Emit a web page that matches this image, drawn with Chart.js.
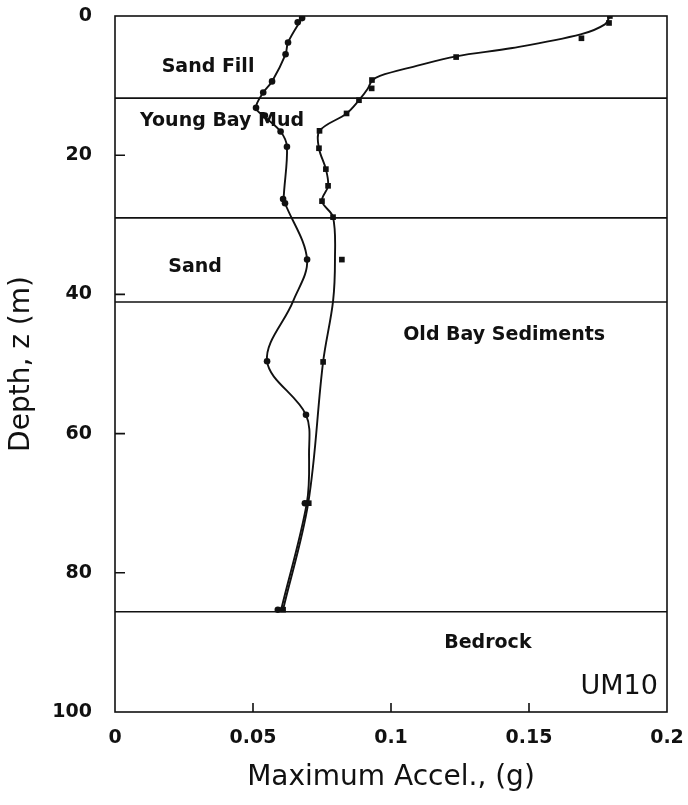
<!DOCTYPE html>
<html>
<head>
<meta charset="utf-8">
<script src="https://cdn.jsdelivr.net/npm/chart.js@4.4.1/dist/chart.umd.min.js"></script>
<style>
  html, body { margin: 0; padding: 0; background: #fff; }
  #wrap { width: 688px; height: 805px; position: relative; }
</style>
</head>
<body>
<div id="wrap"><canvas id="accelChart"></canvas></div>
<script>
// Max acceleration vs depth, site UM10

// layer boundaries (m)
const layerDepths = [11.8, 29.0, 41.1, 85.6];

// measured points, circles
const circleAccel = [0.0678, 0.0662, 0.0627, 0.0618, 0.0569, 0.0537, 0.0511, 0.0543, 0.0600, 0.0623, 0.0609, 0.0616, 0.0696, 0.0551, 0.0692, 0.0688, 0.0590];
const circleDepth = [0.3, 0.9, 3.8, 5.5, 9.4, 11.0, 13.2, 14.3, 16.6, 18.8, 26.3, 26.9, 35.0, 49.6, 57.3, 70.0, 85.3];

// measured points, squares
const squareAccel = [0.1793, 0.1790, 0.1690, 0.1236, 0.0931, 0.0930, 0.0884, 0.0839, 0.0741, 0.0739, 0.0764, 0.0772, 0.0750, 0.0790, 0.0822, 0.0754, 0.0702, 0.0609];
const squareDepth = [0.0, 1.0, 3.2, 5.9, 9.2, 10.4, 12.1, 14.0, 16.5, 19.0, 22.0, 24.4, 26.6, 28.9, 35.0, 49.7, 70.0, 85.3];

// hand drawn curves through the points
const leftCurveAccel = [0.0678, 0.0627, 0.0618, 0.0569, 0.0537, 0.0511, 0.0543, 0.0600, 0.0623, 0.0611, 0.0616, 0.0696, 0.0645, 0.0551, 0.0692, 0.0703, 0.0695, 0.0602];
const leftCurveDepth = [0.3, 3.8, 5.5, 9.4, 11.0, 13.2, 14.5, 16.6, 18.8, 26.3, 26.9, 35.0, 41.0, 49.6, 57.3, 63.0, 70.0, 85.3];

const rightCurveAccel = [0.1793, 0.1775, 0.1690, 0.1440, 0.1236, 0.1080, 0.0960, 0.0931, 0.0915, 0.0884, 0.0839, 0.0741, 0.0739, 0.0764, 0.0772, 0.0750, 0.0790, 0.0797, 0.0790, 0.0754, 0.0700, 0.0609];
const rightCurveDepth = [0.0, 1.2, 2.6, 4.6, 5.8, 7.3, 8.6, 9.3, 10.5, 12.1, 14.0, 16.5, 19.0, 22.0, 24.4, 26.6, 28.9, 35.0, 41.0, 49.7, 70.0, 85.3];

// ticks
const xTickValues = [0, 0.05, 0.1, 0.15, 0.2];
const xTickLabels = ["0", "0.05", "0.1", "0.15", "0.2"];
const yTickValues = [0, 20, 40, 60, 80, 100];
const yTickLabels = ["0", "20", "40", "60", "80", "100"];

// layer names and where they sit (accel, depth)
const layerNames = ["Sand Fill", "Young Bay Mud", "Sand", "Old Bay Sediments", "Bedrock"];
const layerNameAccel = [0.0337, 0.0388, 0.0290, 0.1410, 0.1351];
const layerNameDepth = [7.3, 15.1, 36.1, 45.8, 90.1];
const siteName = "UM10";

const ink = "#111111";

function toPoints(xs, ys) {
    return xs.map((v, i) => ({ x: v, y: ys[i] }));
}

// no automatic label overhang padding, layout padding decides the frame
function noPad(scale) {
    scale.paddingTop = 0;
    scale.paddingBottom = 0;
    scale.paddingLeft = 0;
    scale.paddingRight = 0;
}

const layerSets = layerDepths.map(d => ({
    data: [{ x: 0, y: d }, { x: 0.2, y: d }],
    showLine: true,
    borderColor: ink,
    borderWidth: 1.6,
    pointRadius: 0
}));

const framePlugin = {
    id: "frame",
    afterDatasetsDraw(chart) {
        const { ctx, chartArea: a, scales: { x, y } } = chart;
        ctx.save();
        ctx.strokeStyle = ink;
        ctx.lineWidth = 1.6;
        ctx.strokeRect(a.left, a.top, a.right - a.left, a.bottom - a.top);

        // inward tick marks
        ctx.beginPath();
        yTickValues.slice(1, -1).forEach(v => {
            const py = y.getPixelForValue(v);
            ctx.moveTo(a.left, py);
            ctx.lineTo(a.left + 10, py);
        });
        xTickValues.slice(1, -1).forEach(v => {
            const px = x.getPixelForValue(v);
            ctx.moveTo(px, a.bottom);
            ctx.lineTo(px, a.bottom - 9);
        });
        ctx.stroke();

        // layer names
        ctx.fillStyle = ink;
        ctx.textBaseline = "middle";
        ctx.textAlign = "center";
        ctx.font = "bold 19px 'DejaVu Sans'";
        layerNames.forEach((name, i) => {
            ctx.fillText(name, x.getPixelForValue(layerNameAccel[i]), y.getPixelForValue(layerNameDepth[i]));
        });

        ctx.textAlign = "right";
        ctx.font = "27px 'DejaVu Sans'";
        ctx.fillText(siteName, x.getPixelForValue(0.1967), y.getPixelForValue(96.4));
        ctx.restore();
    }
};

new Chart(document.getElementById("accelChart"), {
    type: "scatter",
    data: {
        datasets: [
            ...layerSets,
            {
                data: toPoints(leftCurveAccel, leftCurveDepth),
                showLine: true,
                borderColor: ink,
                borderWidth: 1.9,
                pointRadius: 0,
                tension: 0.35
            },
            {
                data: toPoints(rightCurveAccel, rightCurveDepth),
                showLine: true,
                borderColor: ink,
                borderWidth: 1.9,
                pointRadius: 0,
                tension: 0.35
            },
            {
                data: toPoints(circleAccel, circleDepth),
                pointStyle: "circle",
                pointRadius: 3.3,
                backgroundColor: ink,
                borderColor: ink,
                borderWidth: 0
            },
            {
                data: toPoints(squareAccel, squareDepth),
                pointStyle: "rect",
                pointRadius: 4,
                backgroundColor: ink,
                borderColor: ink,
                borderWidth: 0
            }
        ]
    },
    options: {
        responsive: true,
        maintainAspectRatio: false,
        animation: false,
        devicePixelRatio: 1,
        layout: {
            padding: { top: 16, right: 21, left: 0, bottom: 0 }
        },
        plugins: {
            legend: { display: false },
            tooltip: { enabled: false }
        },
        scales: {
            x: {
                type: "linear",
                min: 0,
                max: 0.2,
                afterBuildTicks: scale => {
                    scale.ticks = xTickValues.map(v => ({ value: v }));
                },
                afterFit: scale => {
                    scale.height = 93;
                    noPad(scale);
                },
                grid: { display: false, drawTicks: false },
                border: { display: false },
                ticks: {
                    color: ink,
                    padding: 15,
                    maxRotation: 0,
                    font: { family: "DejaVu Sans", size: 19, weight: "bold" },
                    callback: (value, index) => xTickLabels[index]
                },
                title: {
                    display: true,
                    text: "Maximum Accel., (g)",
                    color: ink,
                    padding: { top: 0, bottom: 10 },
                    font: { family: "DejaVu Sans", size: 28 }
                }
            },
            y: {
                type: "linear",
                reverse: true,
                min: 0,
                max: 100,
                afterBuildTicks: scale => {
                    scale.ticks = yTickValues.map(v => ({ value: v }));
                },
                afterFit: scale => {
                    scale.width = 115;
                    noPad(scale);
                },
                grid: { display: false, drawTicks: false },
                border: { display: false },
                ticks: {
                    color: ink,
                    padding: 23,
                    font: { family: "DejaVu Sans", size: 19, weight: "bold" },
                    callback: (value, index) => yTickLabels[index]
                },
                title: {
                    display: true,
                    text: "Depth, z (m)",
                    color: ink,
                    padding: { top: 5, bottom: 0 },
                    font: { family: "DejaVu Sans", size: 28 }
                }
            }
        }
    },
    plugins: [framePlugin]
});
</script>
</body>
</html>
